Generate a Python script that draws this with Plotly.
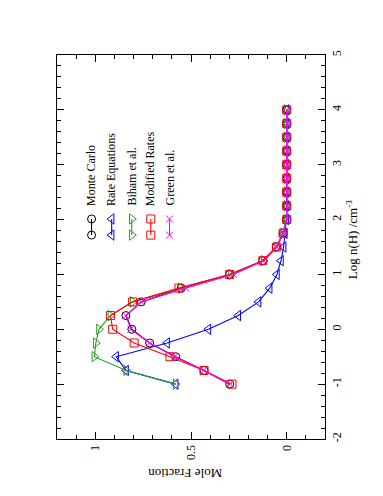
import plotly.graph_objects as go

# ---- data ----
log_nH = [-1.0, -0.75, -0.5, -0.25, 0.0, 0.25, 0.5, 0.75, 1.0, 1.25, 1.5, 1.75,
          2.0, 2.25, 2.5, 2.75, 3.0, 3.25, 3.5, 3.75, 4.0]
monte_carlo = [0.298, 0.432, 0.580, 0.716, 0.809, 0.840, 0.760, 0.551, 0.298, 0.125, 0.054, 0.019,
               0.0, 0.0, 0.0, 0.0, 0.0, 0.0, 0.0, 0.0, 0.0]
rate_equations = [0.580, 0.839, 0.891, 0.625, 0.409, 0.253, 0.147, 0.089, 0.051, 0.030, 0.016, 0.010,
                  0.002, 0.0, 0.0, 0.0, 0.0, 0.0, 0.0, 0.0, 0.0]
biham = [0.580, 0.839, 1.005, 0.997, 0.981, 0.921, 0.805, 0.554, 0.291, 0.121, 0.050, 0.019,
         0.0, 0.0, 0.0, 0.0, 0.0, 0.0, 0.0, 0.0, 0.0]
modified_rates = [0.286, 0.432, 0.610, 0.797, 0.909, 0.921, 0.805, 0.563, 0.298, 0.125, 0.054, 0.019,
                  0.0, 0.0, 0.0, 0.0, 0.0, 0.0, 0.0, 0.0, 0.0]
green = [0.298, 0.432, 0.585, 0.716, 0.814, 0.840, 0.760, 0.528, 0.279, 0.120, 0.050, 0.019,
         0.0, 0.0, 0.0, 0.0, 0.0, 0.0, 0.0, 0.0, 0.0]

series_names = ["Monte Carlo", "Rate Equations", "Biham et al.", "Modified Rates", "Green et al."]
series_values = [monte_carlo, rate_equations, biham, modified_rates, green]

fraction_ticks = [0, 0.5, 1]
fraction_labels = ["0", "0.5", "1"]
logn_ticks = [-2, -1, 0, 1, 2, 3, 4, 5]
logn_labels = ["-2", "-1", "0", "1", "2", "3", "4", "5"]

# ---- styles / layout ----
colors = ["#000000", "#0000ff", "#2e9a2e", "#ff0000", "#ff00ff"]
symbols = ["circle-open", "triangle-left-open", "triangle-right-open", "square-open", "x-thin-open"]
msizes = [8, 9, 9, 8, 7]
FONT = "Liberation Serif"
X_RANGE = [1.2, -0.2]
Y_RANGE = [-2, 5]

fig = go.Figure()
for name, vals, c, s, ms in zip(series_names, series_values, colors, symbols, msizes):
    fig.add_trace(go.Scatter(
        x=vals, y=log_nH, mode="lines+markers", name=name,
        line=dict(color=c, width=1.1),
        marker=dict(symbol=s, size=ms, color=c, line=dict(color=c, width=1)),
        showlegend=False))

# ---- custom rotated legend (positions given as fractions of the plot area) ----
leg_x = [0.129, 0.204, 0.279, 0.350, 0.420]
leg_y = [0.531, 0.573]


def frac_to_x(f):
    return X_RANGE[0] + f * (X_RANGE[1] - X_RANGE[0])


def frac_to_y(f):
    return Y_RANGE[0] + f * (Y_RANGE[1] - Y_RANGE[0])


for name, c, s, ms, lx in zip(series_names, colors, symbols, msizes, leg_x):
    fig.add_trace(go.Scatter(
        x=[frac_to_x(lx), frac_to_x(lx)], y=[frac_to_y(v) for v in leg_y],
        mode="lines+markers",
        line=dict(color=c, width=1.1),
        marker=dict(symbol=s, size=ms, color=c, line=dict(color=c, width=1)),
        showlegend=False, hoverinfo="skip"))
    fig.add_annotation(x=lx, y=0.602, xref="paper", yref="paper", text=name,
                       textangle=-90, showarrow=False, xanchor="center", yanchor="bottom",
                       font=dict(family=FONT, size=12, color="black"))

axis_common = dict(showgrid=False, zeroline=False, showline=True, linecolor="black",
                   linewidth=1.2, ticks="inside", ticklen=7, tickwidth=1, tickcolor="black",
                   mirror="allticks", tickangle=-90, tickmode="array",
                   tickfont=dict(family=FONT, size=12, color="black"))

# page body has an 8px margin; the figure is sized so the plot lands where the reference has it
fig.update_layout(
    width=375, height=488,
    margin=dict(l=49, r=58, t=47, b=57),
    paper_bgcolor="white", plot_bgcolor="white",
    xaxis=dict(range=X_RANGE, tickvals=fraction_ticks, ticktext=fraction_labels,
               showticklabels=True,
               minor=dict(ticks="inside", ticklen=4, tickmode="linear", tick0=0, dtick=0.1,
                          tickcolor="black"),
               **axis_common),
    yaxis=dict(range=Y_RANGE, tickvals=logn_ticks, ticktext=logn_labels, side="right",
               minor=dict(ticks="inside", ticklen=4, tickmode="linear", tick0=0, dtick=0.2,
                          tickcolor="black"),
               **axis_common),
    showlegend=False,
)

fig.add_annotation(x=1.1007, y=0.52, xref="paper", yref="paper",
                   text="Log n(H) /cm<sup>-3</sup>", textangle=-90, showarrow=False,
                   xanchor="center", yanchor="middle",
                   font=dict(family=FONT, size=13, color="black"))
fig.add_annotation(x=0.478, y=-0.088, xref="paper", yref="paper",
                   text="Mole Fraction", textangle=180, showarrow=False,
                   xanchor="center", yanchor="middle",
                   font=dict(family=FONT, size=13, color="black"))

fig.write_html("out.html")
